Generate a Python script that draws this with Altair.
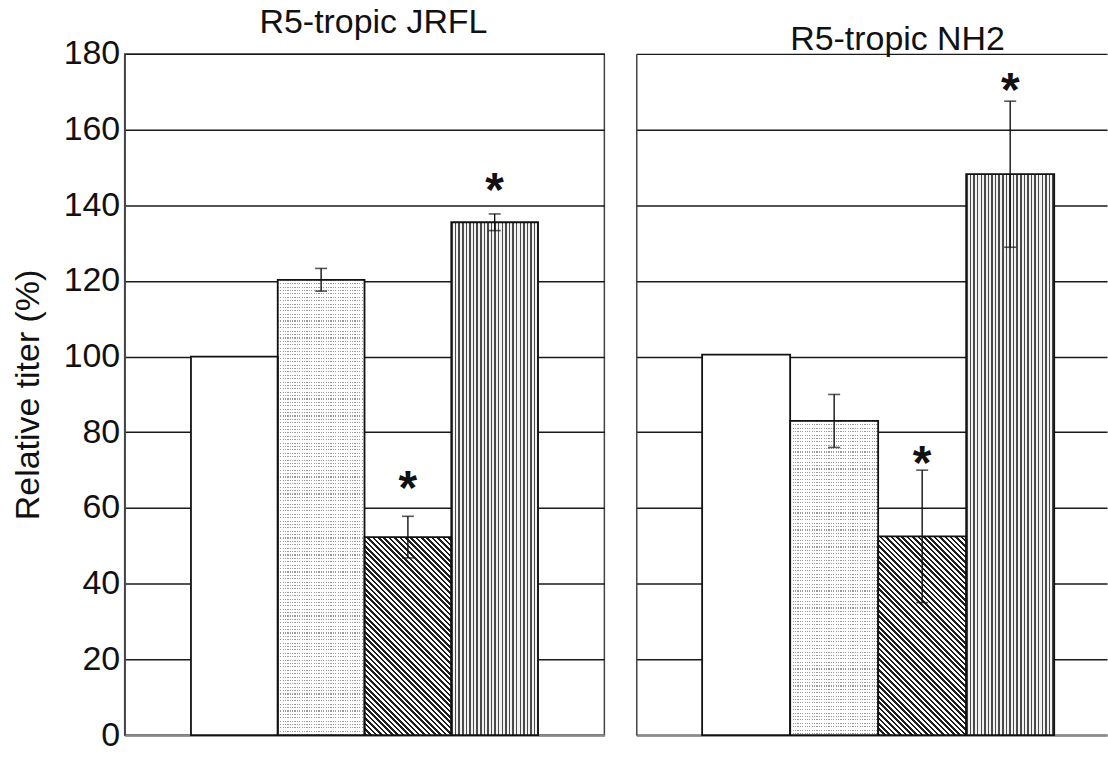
import altair as alt
import pandas as pd

# ---- data ----
conditions = ["1", "2", "3", "4"]
panel_titles = ["R5-tropic JRFL", "R5-tropic NH2"]
jrfl_mean = [100.0, 120.3, 52.3, 135.5]
jrfl_err = [0.0, 3.0, 5.5, 2.2]
jrfl_star = [None, None, 67.7, 146.3]
nh2_mean = [100.5, 83.0, 52.5, 148.2]
nh2_err = [0.0, 7.0, 17.5, 19.3]
nh2_star = [None, None, 74.3, 172.9]
y_ticks = [0, 20, 40, 60, 80, 100, 120, 140, 160, 180]

FONT = "Liberation Sans"
FS = 34
H = 683
YMAX = 180


def stripes(length, period, dark_w, dark, light):
    stops = []
    pos = 0.0
    while pos < length - 1e-9:
        a = pos / length
        b = min(pos + dark_w, length) / length
        c = min(pos + period, length) / length
        stops += [
            {"offset": round(a, 5), "color": dark},
            {"offset": round(b, 5), "color": dark},
            {"offset": round(b, 5), "color": light},
            {"offset": round(c, 5), "color": light},
        ]
        pos += period
    return stops


def grad(x1, y1, x2, y2, stops):
    return {"gradient": "linear", "x1": x1, "y1": y1, "x2": x2, "y2": y2, "stops": stops}


def panel(title, means, errs, stars, width, pad_outer, align, left_axis, dx):
    df = pd.DataFrame({
        "cond": conditions,
        "mean": means,
        "lo": [m - e for m, e in zip(means, errs)],
        "hi": [m + e for m, e in zip(means, errs)],
        "err": errs,
        "star": stars,
    })
    band = width / (4 + 2 * pad_outer)
    px = H / YMAX

    xenc = alt.X("cond:N", sort=conditions,
                 scale=alt.Scale(domain=conditions, paddingInner=0, paddingOuter=pad_outer, align=align),
                 axis=alt.Axis(labels=False, ticks=False, title=None, domainColor="#8a8a8a", domainWidth=2.5))
    if left_axis:
        yaxis = alt.Axis(values=y_ticks, title="Relative titer (%)", titleFontSize=FS, titleFont=FONT,
                         titleFontWeight="normal", titleColor="#111", titlePadding=18,
                         labelFontSize=FS, labelFont=FONT, labelColor="#111", labelPadding=5,
                         ticks=False, domainColor="#444", domainWidth=1.5,
                         grid=True, gridColor="#1a1a1a", gridWidth=1.5)
    else:
        yaxis = alt.Axis(values=y_ticks, title=None, labels=False, ticks=False,
                         domainColor="#444", domainWidth=1.5,
                         grid=True, gridColor="#1a1a1a", gridWidth=1.5)
    yscale = alt.Scale(domain=[0, YMAX], nice=False)

    def y(field):
        return alt.Y(f"{field}:Q", scale=yscale, axis=yaxis)

    base = alt.Chart(df).encode(x=xenc)

    def one(c):
        return base.transform_filter(alt.datum.cond == c)

    h2 = means[1] * px
    h3 = means[2] * px
    w = band
    k = (w + h3) / (w * w + h3 * h3)

    layers = []
    # bar 1: white
    layers.append(one("1").mark_bar(fill="white").encode(y=y("mean")))
    # bar 2: dotted (gray rows masked by white columns)
    layers.append(one("2").mark_bar(
        fill=grad(0, 0, 0, 1, stripes(h2, 3.4, 1.1, "#9a9a9a", "white"))).encode(y=y("mean")))
    layers.append(one("2").mark_bar(
        fill=grad(0, 0, 1, 0, stripes(w, 2.4, 1.2, "rgba(255,255,255,0)", "white"))).encode(y=y("mean")))
    # bar 3: diagonal hatching
    layers.append(one("3").mark_bar(
        fill=grad(0, 1, k * w, 1 - k * h3, stripes(w + h3, 5.4, 2.6, "#1e1e1e", "white"))).encode(y=y("mean")))
    # bar 4: vertical lines
    layers.append(one("4").mark_bar(
        fill=grad(0, 0, 1, 0, stripes(w, 3.6, 1.5, "#4a4a4a", "#f2f2f2"))).encode(y=y("mean")))
    # outlines
    layers.append(base.mark_bar(fill="transparent", stroke="#111", strokeWidth=1.8).encode(y=y("mean")))
    # error bars
    eb = base.transform_filter(alt.datum.err > 0)
    layers.append(eb.mark_rule(color="#111", strokeWidth=1.4).encode(y=y("lo"), y2="hi:Q"))
    layers.append(eb.mark_tick(color="#111", thickness=1.6, size=12).encode(y=y("hi")))
    layers.append(eb.mark_tick(color="#111", thickness=1.6, size=12).encode(y=y("lo")))
    # significance asterisks
    layers.append(base.transform_filter("datum.star != null").mark_text(
        text="*", fontSize=48, fontWeight="bold", font=FONT, color="#111",
        baseline="alphabetic", dy=25).encode(y=y("star")))

    return alt.layer(*layers).properties(
        width=width, height=H,
        title=alt.TitleParams(title, fontSize=FS, font=FONT, fontWeight="normal", color="#111",
                              dx=dx, offset=-3),
    )


left = panel(panel_titles[0], jrfl_mean, jrfl_err, jrfl_star, 481, 0.764, 0.5, True, 9).properties(
    view=alt.ViewBackground(stroke="#444", strokeWidth=1.5))
right = panel(panel_titles[1], nh2_mean, nh2_err, nh2_star, 472, 0.674, 0.555, False, 26).properties(
    view=alt.ViewBackground(stroke="transparent"))

chart = alt.hconcat(left, right, spacing=30).properties(
    padding={"left": 10, "top": 4, "right": 0, "bottom": 0},
    background="white",
)

chart.save("out.html", embed_options={"renderer": "svg", "actions": False})
